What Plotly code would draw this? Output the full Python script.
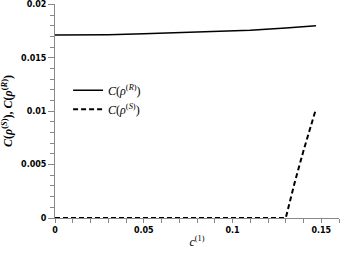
import plotly.graph_objects as go

# Data
c1_R = [0.0, 0.02, 0.03, 0.05, 0.07, 0.09, 0.11, 0.13, 0.147]
C_R = [0.01712, 0.01713, 0.01716, 0.01724, 0.01733, 0.01742, 0.01757, 0.01778, 0.01800]
c1_S = [0.0, 0.05, 0.10, 0.13, 0.135, 0.14, 0.147]
C_S = [0.0, 0.0, 0.0, 0.0, 0.0033, 0.0063, 0.0102]

x_ticks = [0, 0.05, 0.1, 0.15]
x_ticklabels = ["0", "0.05", "0.1", "0.15"]
y_ticks = [0, 0.005, 0.01, 0.015, 0.02]
y_ticklabels = ["0", "0.005", "0.01", "0.015", "0.02"]

fig = go.Figure()
fig.add_trace(go.Scatter(x=c1_R, y=C_R, mode="lines",
                         line=dict(color="black", width=1.5),
                         name="<i>C</i>(<i>ρ</i><sup>(<i>R</i>)</sup>)"))
fig.add_trace(go.Scatter(x=c1_S, y=C_S, mode="lines",
                         line=dict(color="black", width=2, dash="5px,3px"),
                         name="<i>C</i>(<i>ρ</i><sup>(<i>S</i>)</sup>)"))

tickfont = dict(family="DejaVu Sans", size=8, color="black", weight="bold")
fig.update_layout(
    width=340, height=256,
    margin=dict(l=55, r=1, t=4, b=38),
    paper_bgcolor="white", plot_bgcolor="white",
    showlegend=True,
    legend=dict(x=0.046, y=0.553, xanchor="left", yanchor="middle",
                bgcolor="rgba(0,0,0,0)", tracegroupgap=0,
                font=dict(family="Liberation Serif", size=12, color="black")),
    xaxis=dict(range=[0, 0.16], tickvals=x_ticks, ticktext=x_ticklabels,
               showgrid=False, zeroline=False, showline=True, linecolor="#888888",
               linewidth=1, ticks="outside", ticklen=4, tickcolor="#888888",
               tickfont=tickfont,
               minor=dict(ticks="outside", dtick=0.01, ticklen=4, tickcolor="#888888"),
               title=dict(text="<i>c</i><sup>(1)</sup>",
                          font=dict(family="Liberation Serif", size=12, color="black"),
                          standoff=4)),
    yaxis=dict(range=[0, 0.02003], tickvals=y_ticks, ticktext=y_ticklabels,
               showgrid=False, zeroline=False, showline=True, linecolor="#888888",
               linewidth=1, ticks="outside", ticklen=6, tickcolor="#888888",
               tickfont=tickfont,
               minor=dict(ticks="outside", dtick=0.001, ticklen=4, tickcolor="#888888"),
               title=dict(text="<b><i>C</i>(<i>ρ</i><sup>(<i>S</i>)</sup>), <i>C</i>(<i>ρ</i><sup>(<i>R</i>)</sup>)</b>",
                          font=dict(family="Liberation Serif", size=12, color="black"),
                          standoff=8)),
)

fig.write_html("out.html", config={"displayModeBar": False},
               post_script="document.body.style.margin='0';")
